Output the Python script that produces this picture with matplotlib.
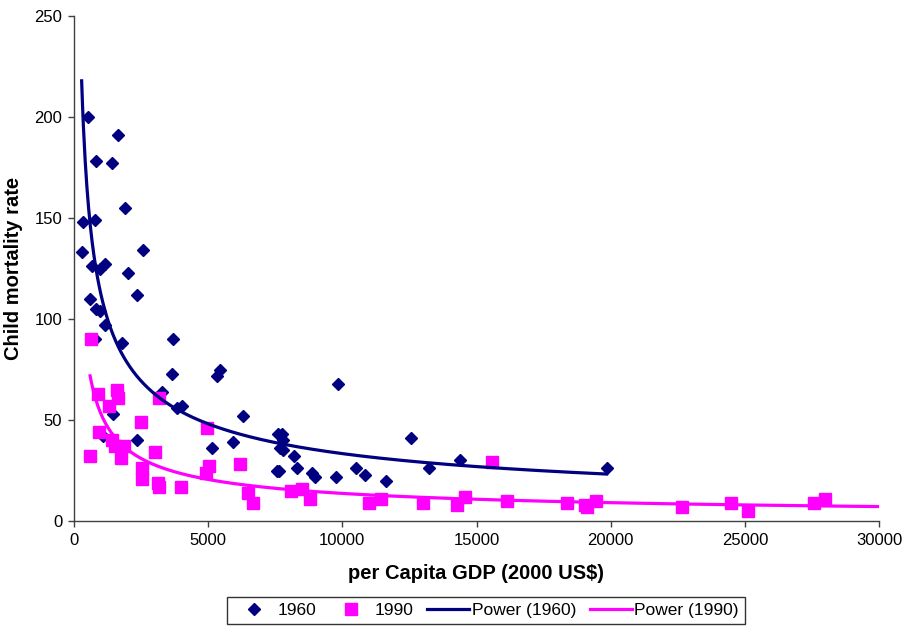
import numpy as np
import matplotlib
matplotlib.use("Agg")
import matplotlib.pyplot as plt
from matplotlib.lines import Line2D

plt.rcParams['font.family'] = ['Liberation Sans', 'DejaVu Sans']

# 1960 data (GDP per capita, child mortality)
gdp_1960 = [535, 1630, 820, 1405, 1900, 325, 780, 285, 2580, 660, 970, 1155, 2025,
            2350, 600, 820, 970, 1155, 1790, 780, 3700, 3640, 5440, 5340, 3270,
            3830, 4040, 6290, 1470, 1090, 2335, 5130, 5940, 7610, 7680, 7580,
            9850, 7740, 7800, 7800, 8200, 7650, 8300, 8860, 8980, 9765, 10510,
            10850, 11610, 12550, 13230, 14390, 19850]
cm_1960 = [200, 191, 178, 177, 155, 148, 149, 133, 134, 126, 125, 127, 123,
           112, 110, 105, 104, 97, 88, 90, 90, 73, 75, 72, 64,
           56, 57, 52, 53, 42, 40, 36, 39, 43, 36, 25,
           68, 43, 40, 35, 32, 25, 26, 24, 22, 22, 26,
           23, 20, 41, 26, 30, 26]

# 1990 data
gdp_1990 = [630, 910, 1615, 1655, 1320, 3180, 2500, 4945, 945, 600, 1405, 1530,
            1875, 1740, 3020, 2520, 2520, 3140, 3170, 3990, 5045, 4910, 6190,
            6470, 6680, 8090, 8480, 8800, 10990, 11430, 13020, 14290, 14570,
            15560, 16120, 18360, 19040, 19130, 19440, 22650, 24490, 25100,
            27590, 28000]
cm_1990 = [90, 63, 65, 61, 57, 61, 49, 46, 44, 32, 40, 37,
           37, 31, 34, 26, 21, 19, 17, 17, 27, 24, 28,
           14, 9, 15, 16, 11, 9, 11, 9, 8, 12,
           29, 10, 9, 8, 7, 10, 7, 9, 5,
           9, 11]

navy = '#000080'
magenta = '#FF00FF'

def power_fit(x, y):
    b, ln_a = np.polyfit(np.log(x), np.log(y), 1)
    return np.exp(ln_a), b

a60, b60 = power_fit(np.array(gdp_1960, float), np.array(cm_1960, float))
a90, b90 = power_fit(np.array(gdp_1990, float), np.array(cm_1990, float))

fig = plt.figure(figsize=(9.11, 6.26), dpi=100)
ax = fig.add_axes([74/911, 1-521/626, (879-74)/911, (521-16)/626])

x60 = np.linspace(min(gdp_1960), max(gdp_1960), 600)
x90 = np.linspace(min(gdp_1990), 30000, 600)

ax.plot(gdp_1960, cm_1960, linestyle='none', marker='D', ms=6.5, color=navy, mec=navy)
ax.plot(gdp_1990, cm_1990, linestyle='none', marker='s', ms=8, color=magenta, mec=magenta)
ax.plot(x60, a60 * x60 ** b60, color=navy, lw=2.3)
ax.plot(x90, a90 * x90 ** b90, color=magenta, lw=2.3)

ax.set_xlim(0, 30000)
ax.set_ylim(0, 250)
ax.set_xticks(np.arange(0, 30001, 5000))
ax.set_yticks(np.arange(0, 251, 50))
for s in ['top', 'right']:
    ax.spines[s].set_visible(False)
for s in ['left', 'bottom']:
    ax.spines[s].set_color('#404040')
    ax.spines[s].set_linewidth(1.0)
ax.tick_params(direction='out', length=4, width=1, color='#404040', labelsize=12, pad=4.5)

ax.set_xlabel('per Capita GDP (2000 US$)', fontsize=14.5, fontweight='bold', labelpad=12)
ax.set_ylabel('Child mortality rate', fontsize=14.5, fontweight='bold', labelpad=8)

handles = [
    Line2D([], [], linestyle='none', marker='D', ms=6.5, color=navy),
    Line2D([], [], linestyle='none', marker='s', ms=8, color=magenta),
    Line2D([], [], color=navy, lw=2.3),
    Line2D([], [], color=magenta, lw=2.3),
]
labels = ['1960', '1990', 'Power (1960)', 'Power (1990)']
leg = fig.legend(handles, labels, loc='upper center', bbox_to_anchor=(486/911, 1-597/626),
                 ncol=4, fontsize=12.5, frameon=True, fancybox=False, edgecolor='black',
                 handlelength=2.4, handletextpad=0.15, columnspacing=0.8, borderpad=0.35,
                 borderaxespad=0)
leg.get_frame().set_linewidth(1.0)

fig.savefig('out.png', dpi=100)
